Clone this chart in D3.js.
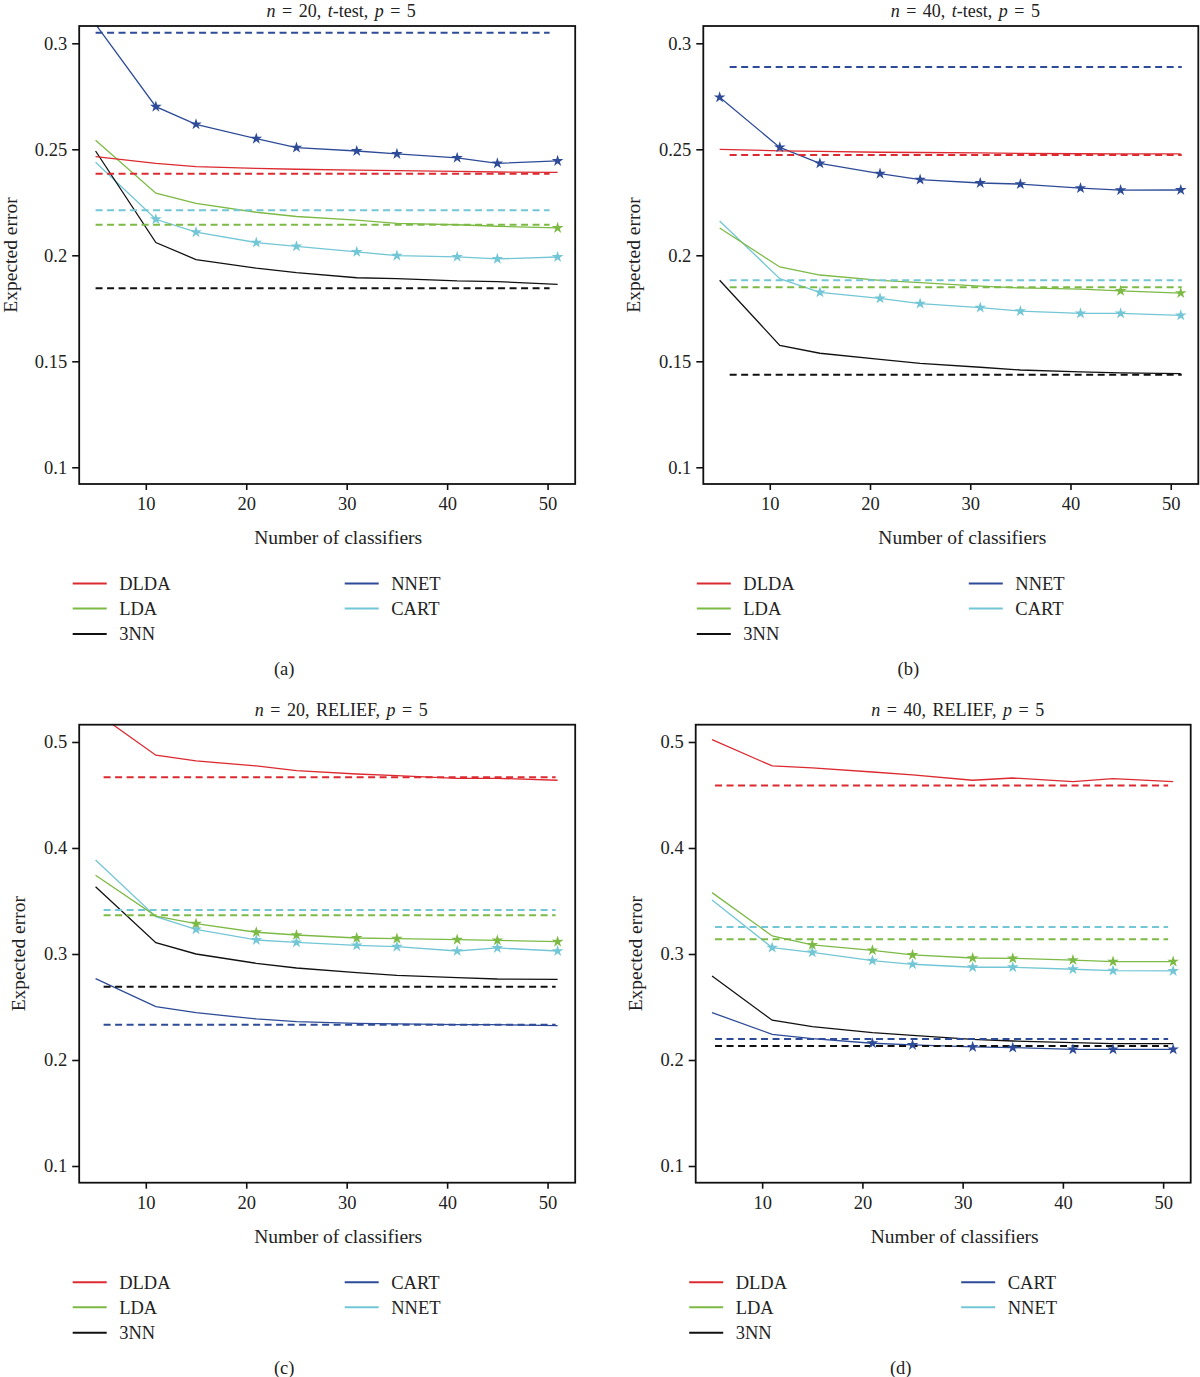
<!DOCTYPE html>
<html>
<head>
<meta charset="utf-8">
<script src="https://cdn.jsdelivr.net/npm/d3@7"></script>
<style>
  html, body { margin: 0; padding: 0; background: #fff; }
  svg { display: block; }
  text { font-family: "Liberation Serif", "Times New Roman", serif; fill: #222; }
</style>
</head>
<body>
<svg id="chart" width="1200" height="1377"></svg>
<script>
// ---------------- DATA ----------------
const xValues = [5, 11, 15, 21, 25, 31, 35, 41, 45, 51];
const xTicks = [10, 20, 30, 40, 50];
const yTicksTop = [0.1, 0.15, 0.2, 0.25, 0.3];
const yTicksBottom = [0.1, 0.2, 0.3, 0.4, 0.5];

const legendTop = ["DLDA", "LDA", "3NN", "NNET", "CART"];
const legendBottom = ["DLDA", "LDA", "3NN", "CART", "NNET"];

// (a) n = 20, t-test
const aDLDA = [0.2465, 0.2434, 0.2418, 0.2410, 0.2406, 0.2402, 0.2399, 0.2396, 0.2393, 0.2391];
const aLDA  = [0.2543, 0.2293, 0.2245, 0.2203, 0.2183, 0.2166, 0.2151, 0.2144, 0.2137, 0.2129];
const a3NN  = [0.2492, 0.2060, 0.1980, 0.1939, 0.1918, 0.1894, 0.1890, 0.1879, 0.1876, 0.1863];
const aNNET = [0.3090, 0.2701, 0.2618, 0.2550, 0.2508, 0.2492, 0.2478, 0.2460, 0.2434, 0.2445];
const aCART = [0.2439, 0.2170, 0.2109, 0.2060, 0.2042, 0.2016, 0.1998, 0.1993, 0.1983, 0.1992];
const aBaseline = [0.2385, 0.2144, 0.1844, 0.3050, 0.2213];
const aStars = [[], [51], [], [11, 15, 21, 25, 31, 35, 41, 45, 51], [11, 15, 21, 25, 31, 35, 41, 45, 51]];

// (b) n = 40, t-test
const bDLDA = [0.2500, 0.2493, 0.2490, 0.2486, 0.2485, 0.2483, 0.2481, 0.2479, 0.2478, 0.2478];
const bLDA  = [0.2129, 0.1945, 0.1907, 0.1882, 0.1871, 0.1855, 0.1846, 0.1840, 0.1832, 0.1822];
const b3NN  = [0.1882, 0.1575, 0.1538, 0.1509, 0.1490, 0.1472, 0.1459, 0.1450, 0.1445, 0.1442];
const bNNET = [0.2745, 0.2509, 0.2434, 0.2385, 0.2357, 0.2341, 0.2336, 0.2317, 0.2307, 0.2308];
const bCART = [0.2162, 0.1890, 0.1825, 0.1797, 0.1772, 0.1753, 0.1737, 0.1726, 0.1726, 0.1717];
const bBaseline = [0.2473, 0.1849, 0.1437, 0.2888, 0.1882];
const bStars = [[], [45, 51], [], [5, 11, 15, 21, 25, 31, 35, 41, 45, 51], [15, 21, 25, 31, 35, 41, 45, 51]];

// (c) n = 20, RELIEF
const cDLDA = [0.5280, 0.4875, 0.4821, 0.4774, 0.4729, 0.4698, 0.4682, 0.4657, 0.4657, 0.4639];
const cLDA  = [0.3742, 0.3358, 0.3286, 0.3205, 0.3179, 0.3151, 0.3145, 0.3135, 0.3129, 0.3116];
const c3NN  = [0.3635, 0.3107, 0.3000, 0.2912, 0.2868, 0.2824, 0.2799, 0.2777, 0.2764, 0.2761];
const cCART = [0.2767, 0.2503, 0.2446, 0.2387, 0.2362, 0.2346, 0.2340, 0.2333, 0.2333, 0.2324];
const cNNET = [0.3887, 0.3352, 0.3233, 0.3132, 0.3110, 0.3082, 0.3069, 0.3028, 0.3057, 0.3028];
const cBaseline = [0.4667, 0.3365, 0.2692, 0.2333, 0.3415];
const cStars = [[], [15, 21, 25, 31, 35, 41, 45, 51], [], [], [15, 21, 25, 31, 35, 41, 45, 51]];

// (d) n = 40, RELIEF
const dDLDA = [0.5023, 0.4774, 0.4755, 0.4717, 0.4689, 0.4639, 0.4660, 0.4626, 0.4655, 0.4626];
const dLDA  = [0.3579, 0.3170, 0.3085, 0.3035, 0.2991, 0.2962, 0.2959, 0.2943, 0.2928, 0.2928];
const d3NN  = [0.2792, 0.2375, 0.2315, 0.2258, 0.2233, 0.2195, 0.2179, 0.2164, 0.2155, 0.2155];
const dCART = [0.2447, 0.2242, 0.2202, 0.2158, 0.2142, 0.2123, 0.2117, 0.2101, 0.2101, 0.2101];
const dNNET = [0.3510, 0.3060, 0.3016, 0.2937, 0.2903, 0.2875, 0.2875, 0.2856, 0.2843, 0.2840];
const dBaseline = [0.4589, 0.3139, 0.2132, 0.2198, 0.3255];
const dStars = [[], [15, 21, 25, 31, 35, 41, 45, 51], [], [21, 25, 31, 35, 41, 45, 51], [11, 15, 21, 25, 31, 35, 41, 45, 51]];

// baseline (dashed) x extents per panel
const aDashX = [5, 50.2];
const bDashX = [6, 51.1];
const cDashX = [5.8, 50.8];
const dDashX = [5.3, 50.5];

// ---------------- STYLE / LAYOUT ----------------
const colors = ["#dc2a30", "#7cba45", "#111111", "#2e4b98", "#73c6d5"];

const panels = [
  { id: "a", n: "20", sel: "t-test", series: [aDLDA, aLDA, a3NN, aNNET, aCART], base: aBaseline, stars: aStars, dash: aDashX,
    legend: legendTop, yTicks: yTicksTop, yDom: [0.09212, 0.30816], left: 79.2, top: 26, width: 496, ylab: -69 },
  { id: "b", n: "40", sel: "t-test", series: [bDLDA, bLDA, b3NN, bNNET, bCART], base: bBaseline, stars: bStars, dash: bDashX,
    legend: legendTop, yTicks: yTicksTop, yDom: [0.09212, 0.30816], left: 703.3, top: 26, width: 495, ylab: -70 },
  { id: "c", n: "20", sel: "RELIEF", series: [cDLDA, cLDA, c3NN, cCART, cNNET], base: cBaseline, stars: cStars, dash: cDashX,
    legend: legendBottom, yTicks: yTicksBottom, yDom: [0.08425, 0.5163], left: 79.2, top: 724.7, width: 496, ylab: -61 },
  { id: "d", n: "40", sel: "RELIEF", series: [dDLDA, dLDA, d3NN, dCART, dNNET], base: dBaseline, stars: dStars, dash: dDashX,
    legend: legendBottom, yTicks: yTicksBottom, yDom: [0.08425, 0.5163], left: 695.7, top: 724.7, width: 495, ylab: -61 }
];
const H = 458;
const xDom = [3.37, 52.75];

const svg = d3.select("#chart");
const drawOrder = [4, 3, 2, 1, 0];

panels.forEach(p => {
  const g = svg.append("g").attr("transform", `translate(${p.left},${p.top})`);
  const x = d3.scaleLinear().domain(xDom).range([0, p.width]);
  const y = d3.scaleLinear().domain(p.yDom).range([H, 0]);

  const clipId = "clip-" + p.id;
  g.append("clipPath").attr("id", clipId)
    .append("rect").attr("x", 0).attr("y", 0).attr("width", p.width).attr("height", H);

  const plot = g.append("g").attr("clip-path", `url(#${clipId})`);
  const line = d3.line().x((d, i) => x(xValues[i])).y(d => y(d));

  // solid lines
  drawOrder.forEach(k => {
    plot.append("path")
      .datum(p.series[k])
      .attr("d", line)
      .attr("fill", "none")
      .attr("stroke", colors[k])
      .attr("stroke-width", 1.3);
  });
  // dashed baselines
  drawOrder.forEach(k => {
    plot.append("line")
      .attr("x1", x(p.dash[0])).attr("x2", x(p.dash[1]))
      .attr("y1", y(p.base[k])).attr("y2", y(p.base[k]))
      .attr("stroke", colors[k])
      .attr("stroke-width", 2)
      .attr("stroke-dasharray", "7,4.5");
  });
  // stars
  const star = d3.symbol().type(d3.symbolStar).size(42);
  drawOrder.forEach(k => {
    p.stars[k].forEach(xv => {
      const i = xValues.indexOf(xv);
      plot.append("path")
        .attr("d", star)
        .attr("transform", `translate(${x(xv)},${y(p.series[k][i])})`)
        .attr("fill", colors[k]);
    });
  });

  // axes
  const yAxis = d3.axisLeft(y).tickValues(p.yTicks).tickSize(7).tickPadding(5).tickFormat(d => String(d));
  const gy = g.append("g").call(yAxis);
  gy.select(".domain").remove();
  gy.selectAll(".tick line").attr("stroke", "#111").attr("stroke-width", 1.6);
  gy.selectAll(".tick text").attr("font-size", 18.5).attr("fill", "#222")
    .style("font-family", '"Liberation Serif", serif');

  const xAxis = d3.axisBottom(x).tickValues(xTicks).tickSize(6).tickPadding(7).tickFormat(d => String(d));
  const gx = g.append("g").attr("transform", `translate(0,${H})`).call(xAxis);
  gx.select(".domain").remove();
  gx.selectAll(".tick line").attr("stroke", "#111").attr("stroke-width", 1.6);
  gx.selectAll(".tick text").attr("font-size", 18.5).attr("fill", "#222")
    .style("font-family", '"Liberation Serif", serif');

  // frame
  g.append("rect").attr("x", 0).attr("y", 0).attr("width", p.width).attr("height", H)
    .attr("fill", "none").attr("stroke", "#111").attr("stroke-width", 1.8);

  // title
  const t = g.append("text").attr("x", 262).attr("y", -15).attr("dy", "0.35em")
    .attr("text-anchor", "middle").attr("font-size", 18).attr("word-spacing", 2);
  t.append("tspan").attr("font-style", "italic").text("n");
  t.append("tspan").text(" = " + p.n + ", ");
  if (p.sel === "t-test") {
    t.append("tspan").attr("font-style", "italic").text("t");
    t.append("tspan").text("-test, ");
  } else {
    t.append("tspan").text(p.sel + ", ");
  }
  t.append("tspan").attr("font-style", "italic").text("p");
  t.append("tspan").text(" = 5");

  // axis labels
  g.append("text").attr("x", 259).attr("y", H + 53).attr("dy", "0.35em")
    .attr("text-anchor", "middle").attr("font-size", 19.5).text("Number of classifiers");
  g.append("text").attr("transform", `translate(${p.ylab},${H / 2}) rotate(-90)`)
    .attr("dy", "0.35em").attr("text-anchor", "middle").attr("font-size", 19.5).text("Expected error");

  // legend
  const rows = [H + 99.5, H + 124.5, H + 150];
  p.legend.forEach((name, k) => {
    const col = k < 3 ? 0 : 1;
    const row = k < 3 ? k : k - 3;
    const lx = col === 0 ? -6.5 : 265.5;
    const ly = rows[row];
    g.append("line").attr("x1", lx).attr("x2", lx + 34).attr("y1", ly).attr("y2", ly)
      .attr("stroke", colors[k]).attr("stroke-width", 2);
    g.append("text").attr("x", lx + 46.5).attr("y", ly).attr("dy", "0.35em")
      .attr("font-size", 18.5).text(name);
  });

  // caption
  g.append("text").attr("x", 205).attr("y", H + 184.5).attr("dy", "0.35em")
    .attr("text-anchor", "middle").attr("font-size", 18.5).text("(" + p.id + ")");
});
</script>
</body>
</html>
